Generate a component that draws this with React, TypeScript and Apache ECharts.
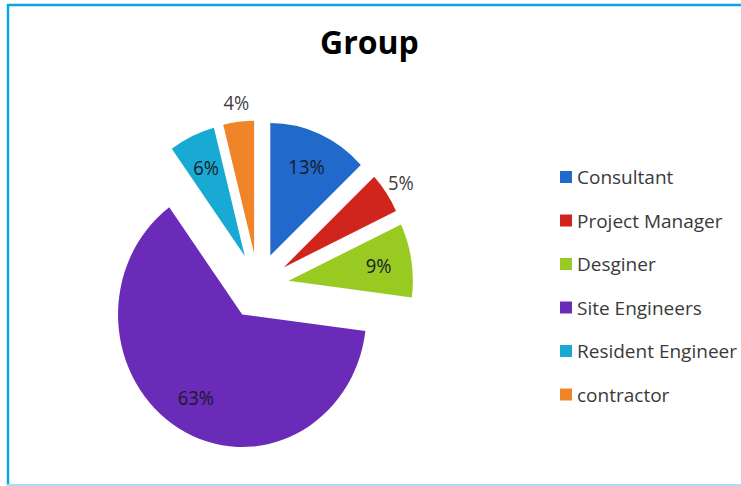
import React, { useEffect, useRef } from "react";
import * as echarts from "echarts";

const titleText = "Group";
const categories = ["Consultant", "Project Manager", "Desginer", "Site Engineers", "Resident Engineer", "contractor"];
const values = [13, 5, 9, 63, 6, 4];
const colors = ["#2169CA", "#D0251C", "#99CA22", "#6A2BB8", "#19AAD3", "#EF8428"];
// which slices carry their percentage label outside the slice
const outsideLabel = [false, true, false, false, false, true];

const FONT = "'Open Sans', 'Noto Sans', sans-serif";
const CX = 258;
const CY = 286;
const R = 128;
const OFFSET = 32;
// the original pie is drawn slightly taller than wide
const SX = 0.97;
const SY = 1.035;

export default function App() {
  const frameRef = useRef<HTMLDivElement>(null);
  const pieRef = useRef<HTMLDivElement>(null);
  useEffect(() => {
    if (!frameRef.current || !pieRef.current) return;
    const frame = echarts.init(frameRef.current, null, { renderer: "svg" });
    const pie = echarts.init(pieRef.current, null, { renderer: "svg" });

    frame.setOption({
      animation: false,
      title: {
        text: titleText,
        left: 315,
        top: 20,
        textStyle: { fontFamily: FONT, fontSize: 32, fontWeight: "bold", color: "#000" },
      },
      legend: {
        orient: "vertical",
        left: 560,
        top: 167,
        itemWidth: 12,
        itemHeight: 12,
        itemGap: 23.5,
        icon: "rect",
        padding: 0,
        selectedMode: false,
        data: categories.map((c, i) => ({ name: c, itemStyle: { color: colors[i] } })),
        textStyle: { fontFamily: FONT, fontSize: 19, color: "#3a3a3a", lineHeight: 20 },
      },
      graphic: [
        { type: "line", shape: { x1: 8, y1: 4, x2: 8, y2: 486 }, style: { stroke: "#0AA3E3", lineWidth: 2.5 } },
        { type: "line", shape: { x1: 7, y1: 5, x2: 741, y2: 5 }, style: { stroke: "#0AA3E3", lineWidth: 2.5 } },
        { type: "line", shape: { x1: 7, y1: 485, x2: 741, y2: 485 }, style: { stroke: "#A9DDF3", lineWidth: 2 } },
      ],
      series: [
        {
          type: "pie",
          radius: [0, 0],
          center: [-100, -100],
          silent: true,
          label: { show: false },
          data: categories.map((c, i) => ({ name: c, value: values[i], itemStyle: { color: colors[i] } })),
        },
      ],
    });

    const base = {
      type: "pie",
      center: [CX, CY],
      startAngle: 90,
      clockwise: true,
      selectedMode: "multiple",
      selectedOffset: OFFSET,
      avoidLabelOverlap: false,
      emphasis: { disabled: true },
      labelLine: { show: false },
    };
    const pct = (p: any) => p.value + "%";
    pie.setOption({
      animation: false,
      series: [
        {
          ...base,
          name: "Group",
          radius: [0, R],
          label: { show: false },
          data: categories.map((c, i) => ({
            name: c,
            value: values[i],
            selected: true,
            itemStyle: { color: colors[i] },
          })),
        },
        {
          ...base,
          name: "inner-labels",
          silent: true,
          radius: [R * 0.42, R],
          data: categories.map((c, i) => ({
            name: c,
            value: values[i],
            selected: true,
            itemStyle: { color: "rgba(0,0,0,0)" },
            label: {
              show: !outsideLabel[i],
              position: "inside",
              formatter: pct,
              fontFamily: FONT,
              fontSize: 19,
              color: "#1a1a2a",
            },
          })),
        },
        {
          ...base,
          name: "outer-labels",
          silent: true,
          radius: [R, R + 30],
          data: categories.map((c, i) => ({
            name: c,
            value: values[i],
            selected: true,
            itemStyle: { color: "rgba(0,0,0,0)" },
            label: {
              show: outsideLabel[i],
              position: "inside",
              formatter: pct,
              fontFamily: FONT,
              fontSize: 19,
              color: "#404040",
            },
          })),
        },
      ],
    });
    return () => {
      frame.dispose();
      pie.dispose();
    };
  }, []);
  return (
    <div style={{ position: "absolute", left: 0, top: 0, width: 741, height: 486, background: "#fff" }}>
      <div ref={frameRef} style={{ position: "absolute", left: 0, top: 0, width: 741, height: 486 }} />
      <div
        ref={pieRef}
        style={{
          position: "absolute",
          left: 0,
          top: 0,
          width: 741,
          height: 486,
          pointerEvents: "none",
          transformOrigin: `${CX}px ${CY}px`,
          transform: `scale(${SX}, ${SY})`,
        }}
      />
    </div>
  );
}
